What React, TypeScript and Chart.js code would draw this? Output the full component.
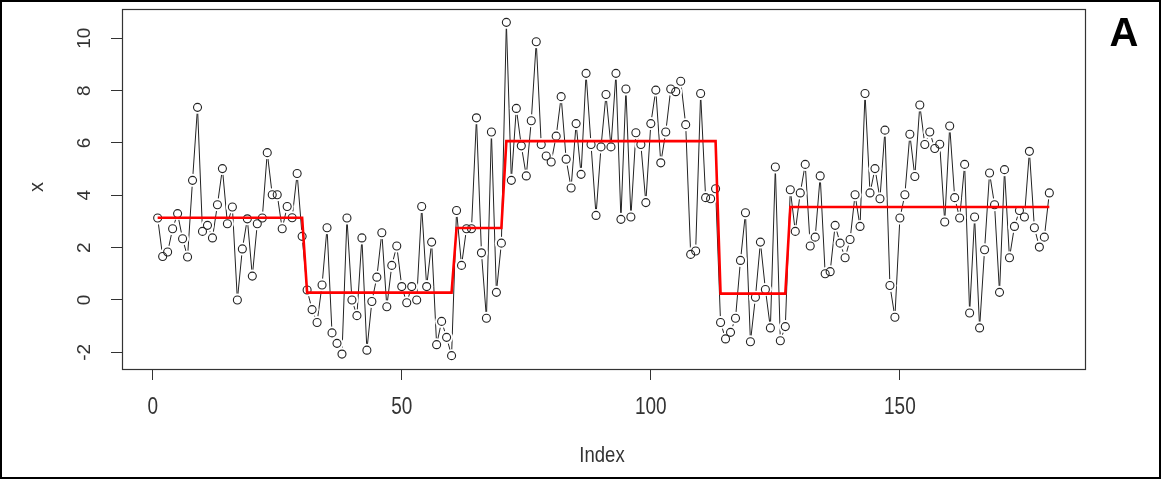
import React, { useEffect, useRef } from "react";
import { Chart, registerables } from "chart.js";

Chart.register(...registerables);

// Observed series x (index 1..180)
const X_VALUES = [
  3.13, 1.66, 1.83, 2.72, 3.30, 2.34, 1.64, 4.57, 7.36, 2.62,
  2.85, 2.37, 3.64, 5.02, 2.91, 3.55, 0.00, 1.95, 3.10, 0.91,
  2.91, 3.13, 5.63, 4.02, 4.02, 2.72, 3.57, 3.14, 4.83, 2.43,
  0.38, -0.37, -0.86, 0.57, 2.76, -1.26, -1.66, -2.07, 3.13, 0.00,
  -0.60, 2.37, -1.92, -0.06, 0.87, 2.57, -0.26, 1.32, 2.06, 0.51,
  -0.11, 0.51, 0.00, 3.57, 0.51, 2.21, -1.71, -0.82, -1.43, -2.13,
  3.42, 1.32, 2.72, 2.72, 6.96, 1.80, -0.70, 6.42, 0.29, 2.17,
  10.61, 4.57, 7.32, 5.89, 4.74, 6.85, 9.87, 5.94, 5.50, 5.27,
  6.26, 7.77, 5.38, 4.28, 6.74, 4.80, 8.66, 5.94, 3.23, 5.85,
  7.85, 5.85, 8.66, 3.08, 8.06, 3.17, 6.39, 5.94, 3.72, 6.74,
  8.02, 5.24, 6.42, 8.06, 7.96, 8.36, 6.70, 1.74, 1.87, 7.89,
  3.91, 3.87, 4.25, -0.86, -1.49, -1.24, -0.70, 1.51, 3.33, -1.60,
  0.10, 2.21, 0.40, -1.07, 5.08, -1.56, -1.02, 4.21, 2.62, 4.09,
  5.18, 2.06, 2.40, 4.74, 1.00, 1.08, 2.85, 2.17, 1.61, 2.31,
  4.02, 2.81, 7.89, 4.09, 5.02, 3.87, 6.49, 0.55, -0.66, 3.13,
  4.02, 6.33, 4.72, 7.45, 5.94, 6.42, 5.79, 5.95, 2.98, 6.65,
  3.91, 3.13, 5.18, -0.50, 3.17, -1.07, 1.92, 4.85, 3.64, 0.29,
  4.98, 1.61, 2.81, 3.42, 3.17, 5.68, 2.76, 2.02, 2.40, 4.09,
];

// Fitted step segments (red line)
const SEG_START = [1, 31, 61, 71, 114, 128];
const SEG_END = [30, 60, 70, 113, 127, 180];
const SEG_MEAN = [3.14, 0.28, 2.75, 6.07, 0.24, 3.55];

const X_TICKS = [0, 50, 100, 150];
const Y_TICKS = [-2, 0, 2, 4, 6, 8, 10];
const X_TITLE = "Index";
const Y_TITLE = "x";
const PANEL_LABEL = "A";

const FONT = '"Liberation Sans", Arial, Helvetica, sans-serif';

export default function App() {
  const ref = useRef<HTMLCanvasElement | null>(null);

  useEffect(() => {
    const seriesPts = X_VALUES.map((y, i) => ({ x: i + 1, y }));
    const stepPts: { x: number; y: number }[] = [];
    SEG_START.forEach((s, k) => {
      for (let i = s; i <= SEG_END[k]; i++) stepPts.push({ x: i, y: SEG_MEAN[k] });
    });

    const textPlugin = {
      id: "rtext",
      afterDraw(chart: any) {
        const ctx = chart.ctx as CanvasRenderingContext2D;
        const ca = chart.chartArea;
        const xs = chart.scales.x;
        const ys = chart.scales.y;
        ctx.save();
        ctx.strokeStyle = "#333";
        ctx.lineWidth = 1.2;
        ctx.strokeRect(Math.round(ca.left) + 0.5, Math.round(ca.top) + 0.5, Math.round(ca.right - ca.left), Math.round(ca.bottom - ca.top));
        ctx.strokeStyle = "#000";
        ctx.lineWidth = 2;
        ctx.strokeRect(1, 1, 1159, 477);

        ctx.fillStyle = "#333";
        ctx.textAlign = "center";
        ctx.textBaseline = "middle";
        ctx.font = `19px ${FONT}`;
        X_TICKS.forEach((v) => {
          const px = xs.getPixelForValue(v);
          ctx.save();
          ctx.translate(px, 408);
          ctx.scale(1, 1.22);
          ctx.fillText(String(v), 0, 0);
          ctx.restore();
        });
        Y_TICKS.forEach((v) => {
          const py = ys.getPixelForValue(v);
          ctx.save();
          ctx.translate(85, py);
          ctx.rotate(-Math.PI / 2);
          ctx.fillText(String(v), 0, 0);
          ctx.restore();
        });
        ctx.save();
        ctx.font = `18.5px ${FONT}`;
        ctx.translate(602, 456);
        ctx.scale(1, 1.2);
        ctx.fillText(X_TITLE, 0, 0);
        ctx.restore();

        ctx.save();
        ctx.font = `20px ${FONT}`;
        ctx.translate(37, 187);
        ctx.rotate(-Math.PI / 2);
        ctx.fillText(Y_TITLE, 0, 0);
        ctx.restore();

        ctx.fillStyle = "#000";
        ctx.font = `bold 40px ${FONT}`;
        ctx.fillText(PANEL_LABEL, 1124, 35);
        ctx.restore();
      },
    };

    const chart = new Chart(ref.current as HTMLCanvasElement, {
      type: "line",
      data: {
        datasets: [
          {
            label: "fit",
            data: stepPts,
            borderColor: "#ff0000",
            borderWidth: 2.6,
            pointRadius: 0,
            tension: 0,
            order: 1,
          },
          {
            label: "points",
            data: seriesPts,
            showLine: false,
            pointRadius: 4,
            pointBorderWidth: 1.1,
            pointBorderColor: "#222",
            pointBackgroundColor: "rgba(255,255,255,0)",
            order: 2,
          },
          {
            label: "gaps",
            data: seriesPts,
            showLine: false,
            pointRadius: 6.5,
            pointBorderWidth: 0,
            pointBorderColor: "#ffffff",
            pointBackgroundColor: "#ffffff",
            order: 3,
          },
          {
            label: "x",
            data: seriesPts,
            borderColor: "#222",
            borderWidth: 1,
            pointRadius: 0,
            tension: 0,
            order: 4,
          },
        ],
      },
      options: {
        responsive: false,
        animation: false,
        devicePixelRatio: 1,
        layout: { padding: { top: 9, right: 76, left: 0, bottom: 0 } },
        plugins: { legend: { display: false }, tooltip: { enabled: false } },
        scales: {
          x: {
            type: "linear",
            position: "bottom",
            min: -6.16,
            max: 187.16,
            afterBuildTicks: (s: any) => {
              s.ticks = X_TICKS.map((v) => ({ value: v }));
            },
            afterFit: (s: any) => {
              s.height = 110;
            },
            ticks: { display: false },
            grid: { display: true, drawOnChartArea: false, drawTicks: true, tickLength: 11, color: "#333", lineWidth: 1 },
            border: { display: false },
          },
          y: {
            type: "linear",
            position: "left",
            min: -2.64,
            max: 11.12,
            afterBuildTicks: (s: any) => {
              s.ticks = Y_TICKS.map((v) => ({ value: v }));
            },
            afterFit: (s: any) => {
              s.width = 122;
            },
            ticks: { display: false },
            grid: { display: true, drawOnChartArea: false, drawTicks: true, tickLength: 11, color: "#333", lineWidth: 1 },
            border: { display: false },
          },
        },
      } as any,
      plugins: [textPlugin],
    });
    return () => chart.destroy();
  }, []);

  return (
    <div style={{ position: "fixed", left: 0, top: 0, width: 1161, height: 479, background: "#fff" }}>
      <canvas ref={ref} width={1161} height={479} style={{ display: "block" }} />
    </div>
  );
}
